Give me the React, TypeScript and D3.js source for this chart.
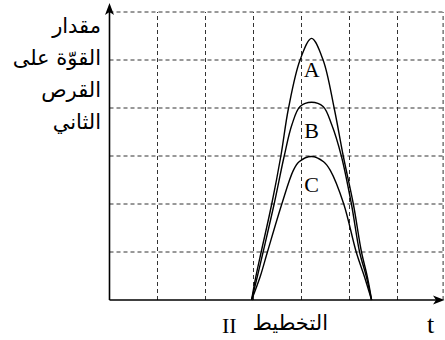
import React from 'react';
import * as d3 from 'd3';

// grid ticks (time units / force units)
const tTicks = [1, 2, 3, 4, 5, 6];
const fTicks = [1, 2, 3, 4, 5, 6];

// curves: [t, force]
const curveA: [number, number][] = [
  [2.96, 0], [3.05, 0.49], [3.16, 1], [3.38, 2], [3.57, 3], [3.73, 4], [3.97, 5],
  [4.21, 5.45],
  [4.45, 5], [4.68, 4], [4.87, 3], [5.08, 2], [5.25, 1], [5.37, 0.49], [5.46, 0],
];
const curveB: [number, number][] = [
  [2.96, 0], [3.08, 0.49], [3.2, 1], [3.43, 2], [3.64, 3], [3.8, 3.65], [3.97, 4.03],
  [4.21, 4.12],
  [4.45, 4.03], [4.63, 3.65], [4.83, 3], [5.04, 2], [5.21, 1], [5.35, 0.49], [5.46, 0],
];
const curveC: [number, number][] = [
  [2.96, 0], [3.14, 0.49], [3.29, 1], [3.59, 2], [3.83, 2.7], [3.95, 2.88],
  [4.21, 2.99],
  [4.46, 2.88], [4.6, 2.7], [4.88, 2], [5.14, 1], [5.31, 0.49], [5.46, 0],
];
const seriesNames = ['A', 'B', 'C'];
const seriesData = [curveA, curveB, curveC];
// label anchors in data units
const labelT = [4.21, 4.21, 4.21];
const labelF = [4.65, 3.37, 2.25];

const yTitle = ['مقدار', 'القوّة على', 'القرص', 'الثاني'];
const xTitle = 'التخطيط';
const xTitleNum = 'II';
const xAxisName = 't';

const W = 445, H = 340;

export default function App() {
  const x = d3.scaleLinear().domain([0, 7]).range([109.5, 445.5]);
  const y = d3.scaleLinear().domain([0, 6]).range([300, 12]);
  const xRight = x(6.95);

  const line = d3.line<[number, number]>()
    .x(d => x(d[0]))
    .y(d => y(d[1]))
    .curve(d3.curveCatmullRom.alpha(0.5));

  const x0 = x(0), y0 = y(0);
  const serif = '"Liberation Serif", "Times New Roman", serif';
  const arabic = '"DejaVu Sans", sans-serif';

  return (
    <svg width={W} height={H} style={{ position: 'absolute', left: 0, top: 0, background: '#fff' }}>
      {/* grid */}
      <g stroke="#333" strokeWidth={1} strokeDasharray="4,3" fill="none">
        {tTicks.map(t => (
          <line key={'v' + t} x1={x(t)} x2={x(t)} y1={y0} y2={y(6)} />
        ))}
        <line x1={xRight} x2={xRight} y1={y0} y2={y(6)} />
        {fTicks.map(f => (
          <line key={'h' + f} x1={x0} x2={xRight} y1={y(f)} y2={y(f)} />
        ))}
      </g>

      {/* axes */}
      <g stroke="#000" strokeWidth={1.6}>
        <line x1={x0} x2={x0} y1={y0} y2={y(6) - 4} />
        <line x1={x0} x2={W - 6} y1={y0} y2={y0} />
      </g>
      <path d={`M${x0},${y(6) - 9} L${x0 + 4.5},${y(6) + 3} L${x0},${y(6) + 0} L${x0 - 4.5},${y(6) + 3} Z`} fill="#000" />
      <path d={`M${W - 0.5},${y0} L${W - 12},${y0 - 4.5} L${W - 9},${y0} L${W - 12},${y0 + 4.5} Z`} fill="#000" />

      {/* curves */}
      <g fill="none" stroke="#000" strokeWidth={1.4}>
        {seriesData.map((d, i) => (
          <path key={seriesNames[i]} d={line(d) || ''} />
        ))}
      </g>

      {/* curve labels */}
      <g fontFamily={serif} fontSize={22} textAnchor="middle" fill="#000">
        {seriesNames.map((n, i) => (
          <text key={n} x={x(labelT[i])} y={y(labelF[i])}>{n}</text>
        ))}
      </g>

      {/* y title */}
      <g fontFamily={arabic} fontSize={21} textAnchor="end" fill="#000">
        {yTitle.map((s, i) => (
          <text key={i} x={101} y={33 + i * 32}>{s}</text>
        ))}
      </g>

      {/* x title */}
      <text x={328} y={330} fontFamily={arabic} fontSize={21} textAnchor="end">{xTitle}</text>
      <text x={222} y={333} fontFamily={serif} fontSize={22}>{xTitleNum}</text>
      <text x={427} y={333} fontFamily={serif} fontSize={26}>{xAxisName}</text>
    </svg>
  );
}
